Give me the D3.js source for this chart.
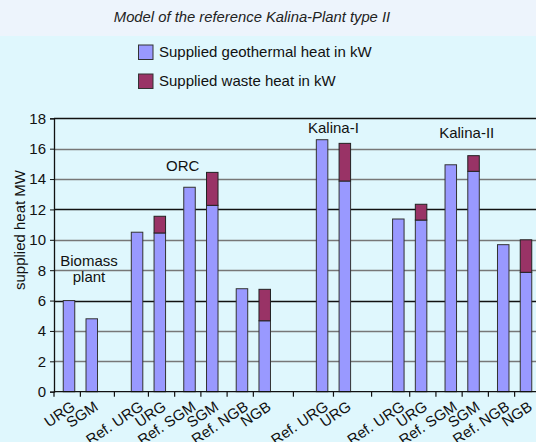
<!DOCTYPE html>
<html><head><meta charset="utf-8">
<script src="https://cdn.jsdelivr.net/npm/d3@7"></script>
<style>body{margin:0;background:#dff7fd;}svg{display:block;font-family:"Liberation Sans",Arial,sans-serif;}</style>
</head><body><svg id="c" width="536" height="442"></svg>
<script>
// ---- data ----
const title = "Model of the reference Kalina-Plant type II";
const seriesNames = ["Supplied geothermal heat in kW", "Supplied waste heat in kW"];
const groups = ["Biomass plant", "ORC", "Kalina-I", "Kalina-II"];
const categories = ["URG","SGM","Ref. URG","URG","Ref. SGM","SGM","Ref. NGB","NGB","Ref. URG","URG","Ref. URG","URG","Ref. SGM","SGM","Ref. NGB","NGB"];
const groupOf = [0,0,1,1,1,1,1,1,2,2,3,3,3,3,3,3];
const geothermal = [6.0,4.8,10.5,10.45,13.46,12.27,6.78,4.67,16.59,13.87,11.37,11.3,14.94,14.51,9.68,7.86];
const waste = [0,0,0,1.1,0,2.17,0,2.07,0,2.48,0,1.04,0,1.03,0,2.14];
const yTicks = [0,2,4,6,8,10,12,14,16,18];
const yTitle = "supplied heat MW";

// ---- layout ----
const svg = d3.select("#c");
const colors = ["#9999ff", "#993366"];
const plot = {left: 54, right: 536, top: 118.3, bottom: 391.7};

svg.append("rect").attr("width",536).attr("height",442).attr("fill","#dff7fd");
svg.append("rect").attr("width",536).attr("height",36).attr("fill","#edf4fc");

svg.append("text").attr("x",252).attr("y",21.5).attr("text-anchor","middle")
  .attr("font-size",14.8).attr("font-style","italic").attr("fill","#222").text(title);

// legend
seriesNames.forEach((s,i)=>{
  const g = svg.append("g").attr("transform",`translate(138,${44.5+i*29})`);
  g.append("rect").attr("x",0.5).attr("y",0.5).attr("width",14.5).attr("height",14.5)
    .attr("fill",colors[i]).attr("stroke","#333").attr("stroke-width",1);
  g.append("text").attr("x",21).attr("y",12.6).attr("font-size",15).attr("fill","#111").text(s);
});

// unit positions from structure (pairs inside groups)
const pairStep = 1.305, groupGaps = [1.99, 2.52, 2.35];
const units = [];
let u = 0;
categories.forEach((c,i)=>{
  if (i>0) {
    if (groupOf[i] !== groupOf[i-1]) u += groupGaps[groupOf[i-1]];
    else {
      const firstInGroup = groupOf.indexOf(groupOf[i]);
      u += ((i-firstInGroup) % 2 === 1) ? 1 : pairStep;
    }
  }
  units.push(u);
});
const x = d3.scaleLinear().domain([0, units[units.length-1]]).range([69, 526]);
const y = d3.scaleLinear().domain([0, 18]).range([plot.bottom, plot.top]);
const barW = 11.5;

// gridlines
svg.append("g").selectAll("line").data(yTicks.filter(t=>t>0)).join("line")
  .attr("x1",plot.left).attr("x2",plot.right)
  .attr("y1",d=>Math.round(y(d))+0.5).attr("y2",d=>Math.round(y(d))+0.5)
  .attr("stroke",d=>(d%6===0)?"#111":"#777").attr("stroke-width",1.3);

// bars
const bars = svg.append("g");
categories.forEach((c,i)=>{
  const cx = x(units[i]);
  bars.append("rect").attr("x",cx-barW/2).attr("width",barW)
    .attr("y",y(geothermal[i])).attr("height",y(0)-y(geothermal[i]))
    .attr("fill",colors[0]).attr("stroke","#333").attr("stroke-width",1);
  if (waste[i]>0) {
    bars.append("rect").attr("x",cx-barW/2).attr("width",barW)
      .attr("y",y(geothermal[i]+waste[i])).attr("height",y(geothermal[i])-y(geothermal[i]+waste[i]))
      .attr("fill",colors[1]).attr("stroke","#222").attr("stroke-width",1);
  }
});

// y axis
const yAxis = svg.append("g").attr("transform",`translate(${plot.left},0)`)
  .call(d3.axisLeft(y).tickValues(yTicks).tickSize(4).tickPadding(4));
yAxis.select(".domain").attr("stroke","#111").attr("stroke-width",1.3);
yAxis.selectAll(".tick line").attr("stroke","#111");
yAxis.selectAll("text").attr("font-size",15).attr("fill","#111").attr("font-family","Liberation Sans, Arial, sans-serif");

svg.append("text").attr("transform",`translate(25,230) rotate(-90)`).attr("text-anchor","middle")
  .attr("font-size",15).attr("fill","#111").text(yTitle);

// x axis line & ticks at midpoints between bars
svg.append("line").attr("x1",plot.left).attr("x2",plot.right).attr("y1",plot.bottom).attr("y2",plot.bottom)
  .attr("stroke","#111").attr("stroke-width",1.3);
const tickXs = [plot.left].concat(d3.pairs(units).map(([a,b])=>x((a+b)/2)));
svg.append("g").selectAll("line").data(tickXs).join("line")
  .attr("x1",d=>d).attr("x2",d=>d).attr("y1",plot.bottom).attr("y2",plot.bottom+5)
  .attr("stroke","#111").attr("stroke-width",1.2);

// x labels rotated
svg.append("g").selectAll("text").data(categories).join("text")
  .attr("transform",(d,i)=>`translate(${x(units[i])+1},${plot.bottom+8}) rotate(-34)`)
  .attr("text-anchor","end").attr("dy","0.75em").attr("font-size",15).attr("fill","#111").text(d=>d);

// group annotations (positions in data units)
const ann = [
  {g:0, dx:0.38, v:8.3, lines:["Biomass","plant"]},
  {g:1, dx:-0.8, v:14.55, lines:["ORC"]},
  {g:2, dx:0, v:17.05, lines:["Kalina-I"]},
  {g:3, dx:0.2, v:16.7, lines:["Kalina-II"]}
];
ann.forEach(a=>{
  const idx = groupOf.map((g,i)=>g===a.g?i:-1).filter(i=>i>=0);
  const cu = (units[idx[0]]+units[idx[idx.length-1]])/2 + a.dx;
  const t = svg.append("text").attr("x",x(cu)).attr("y",y(a.v)).attr("text-anchor","middle")
    .attr("font-size",15).attr("fill","#111");
  a.lines.forEach((l,k)=>t.append("tspan").attr("x",x(cu)).attr("dy",k?16:0).text(l));
});
</script></body></html>
